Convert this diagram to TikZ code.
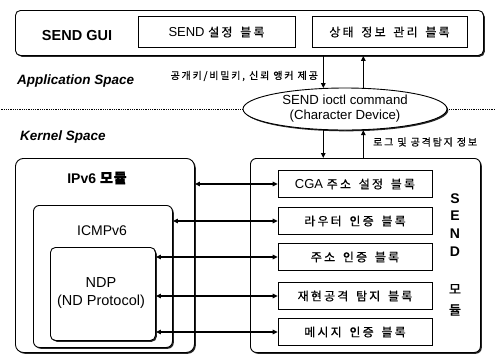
\documentclass[tikz,border=0pt]{standalone}
\usepackage{fontspec}
\setmainfont{Liberation Sans}
\newfontfamily\krblk[LetterSpace=18, WordSpace=1.6, FakeBold=0.6]{Noto Sans CJK KR}
\newfontfamily\krlbl[LetterSpace=18, FakeBold=0.5]{Noto Sans CJK KR}
\newfontfamily\krb[LetterSpace=6, FakeBold=1.5]{Noto Sans CJK KR}
\newcommand\kor[1]{{\fontsize{12}{14}\selectfont\krblk #1}}
\usetikzlibrary{arrows.meta,shapes.geometric,shadows}
\tikzset{
  shd/.style={general shadow={fill=black!85, shadow xshift=1.3pt, shadow yshift=-1.3pt}},
  bigbox/.style={draw, line width=0.9pt, fill=white, shd, anchor=north west, inner sep=0pt},
  blk/.style={draw, line width=0.7pt, fill=white, minimum width=154pt, minimum height=27pt, inner sep=0pt, font=\fontsize{13}{15}\selectfont},
  guiblk/.style={draw, line width=0.7pt, fill=white, minimum width=157pt, minimum height=31pt, inner sep=0pt, font=\fontsize{13}{15}\selectfont},
  arr/.style={line width=1.2pt, -{Triangle[length=5pt,width=4.5pt]}},
  arrb/.style={line width=1.2pt, {Triangle[length=5pt,width=4.5pt]}-{Triangle[length=5pt,width=4.5pt]}},
  lbl/.style={inner sep=0pt, font=\fontsize{10}{12}\selectfont\krlbl},
  dotline/.style={line width=0.8pt, densely dotted},
  space/.style={inner sep=0pt, anchor=west, font=\fontsize{13.5}{16}\selectfont\bfseries\itshape},
  sendltr/.style={inner sep=0pt, font=\fontsize{14}{16}\selectfont\bfseries}
}
\begin{document}
\begin{tikzpicture}[x=1pt,y=-1pt]
\useasboundingbox (0,0) rectangle (495,357);
\fill[white] (0,0) rectangle (495,357);

% GUI
\node[bigbox, rounded corners=5pt, minimum width=468pt, minimum height=45pt] (gui) at (15,10) {};
\node[inner sep=0pt, font=\fontsize{14.5}{16}\selectfont\bfseries] (guit) at (77,36) {SEND GUI};
\node[guiblk] (cfg) at (216.5,32) {SEND \kor{설정 블록}};
\node[guiblk, minimum width=155pt] (stat) at (389.5,32) {\kor{상태 정보 관리 블록}};

\node[space] (app) at (17,81) {Application Space};
\node[space] (ker) at (20,137) {Kernel Space};

% ioctl ellipse
\node[ellipse, draw, line width=0.9pt, fill=white, shd, minimum width=204pt, minimum height=42pt, inner sep=0pt, align=center, font=\fontsize{13.2}{15}\selectfont] (ioctl) at (345,109) {SEND ioctl command\\(Character Device)};
\draw[dotline] (ioctl.west) -- (0,0 |- ioctl.west);
\draw[dotline] (ioctl.east) -- (495,0 |- ioctl.east);

% IPv6 module
\node[bigbox, rounded corners=8pt, minimum width=179pt, minimum height=194pt] (ipv6) at (15,158) {};
\node[inner sep=0pt, font=\fontsize{14}{16}\selectfont\bfseries] (ipv6t) at (97,178) {IPv6 {\krb 모듈}};
\node[bigbox, rounded corners=6pt, minimum width=139pt, minimum height=142pt] (icmp) at (33,205) {};
\node[inner sep=0pt, font=\fontsize{14}{16}\selectfont] (icmpt) at (102,231) {ICMPv6};
\node[bigbox, rounded corners=5pt, minimum width=105pt, minimum height=93pt] (ndp) at (50,247) {};
\node[inner sep=0pt, align=center, font=\fontsize{14.5}{18}\selectfont] (ndpt) at (101,293) {NDP\\(ND Protocol)};

% SEND module
\node[bigbox, rounded corners=6pt, minimum width=230pt, minimum height=194pt] (send) at (250,158) {};
\node[blk] (cga) at (355,184) {CGA \kor{주소 설정 블록}};
\node[blk] (rt) at (355,221) {\kor{라우터 인증 블록}};
\node[blk] (addr) at (355,257) {\kor{주소 인증 블록}};
\node[blk] (replay) at (355,296) {\kor{재현공격 탐지 블록}};
\node[blk] (msg) at (355,332) {\kor{메시지 인증 블록}};

\node[sendltr] (l1) at (455,199) {S};
\node[sendltr] (l2) at (455,216) {E};
\node[sendltr] (l3) at (455,234) {N};
\node[sendltr] (l4) at (455,252) {D};
\node[sendltr, font=\fontsize{13}{15}\selectfont\krb] (l5) at (455,289) {모};
\node[sendltr, font=\fontsize{13}{15}\selectfont\krb] (l6) at (455,310) {듈};

% GUI <-> ioctl
\draw[arr] (gui.south -| ioctl.136) -- (ioctl.136);
\draw[arr] (ioctl.49) -- (gui.south -| ioctl.49);
\node[lbl, anchor=east] (keylbl) at (318,76) {공개키/비밀키, 신뢰 앵커 제공};

% ioctl <-> SEND
\draw[arr] (ioctl.224) -- (send.north -| ioctl.224);
\draw[arr] (send.north -| ioctl.311) -- (ioctl.311);
\node[lbl, anchor=west] (loglbl) at (373,142) {로그 및 공격탐지 정보};

% module <-> blocks
\draw[arrb] (ipv6.east |- cga.west) -- (cga.west);
\draw[arrb] (icmp.east |- rt.west) -- (rt.west);
\draw[arrb] (ndp.east |- addr.west) -- (addr.west);
\draw[arrb] (ndp.east |- replay.west) -- (replay.west);
\draw[arrb] (ndp.east |- msg.west) -- (msg.west);
\end{tikzpicture}
\end{document}
